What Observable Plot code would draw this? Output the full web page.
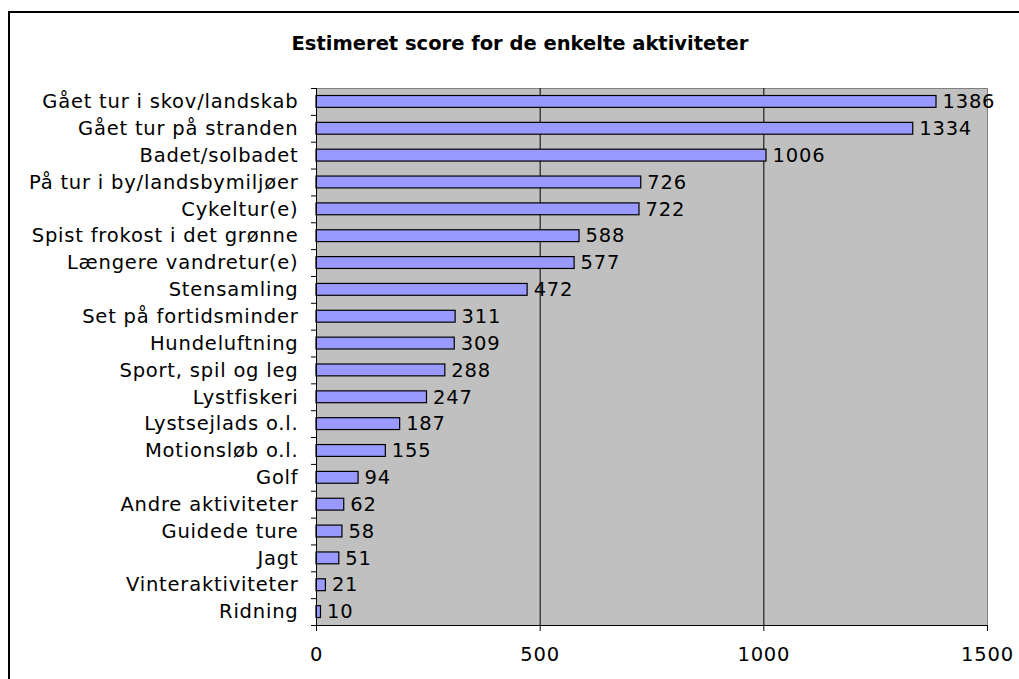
<!DOCTYPE html>
<html>
<head>
<meta charset="utf-8">
<script src="https://cdn.jsdelivr.net/npm/d3@7"></script>
<script src="https://cdn.jsdelivr.net/npm/@observablehq/plot@0.6"></script>
<style>
  html, body { margin: 0; padding: 0; background: #fff; }
  #wrap { position: relative; width: 1019px; height: 679px; overflow: hidden; }
  #border { position: absolute; left: 8px; top: 11px; width: 1020px; height: 680px; border: 2px solid #000; box-sizing: border-box; pointer-events: none; }
  #title { position: absolute; top: 34px; left: 520px; transform: translateX(-50%); white-space: nowrap; line-height: 1;
           font-family: "DejaVu Sans", Verdana, sans-serif; font-weight: bold; font-size: 19.5px; color: #000; }
  #chart { position: absolute; left: 0; top: 0; }
</style>
</head>
<body>
<div id="wrap">
  <div id="chart"></div>
  <div id="title">Estimeret score for de enkelte aktiviteter</div>
  <div id="border"></div>
</div>
<script>
const categories = [
  "Gået tur i skov/landskab",
  "Gået tur på stranden",
  "Badet/solbadet",
  "På tur i by/landsbymiljøer",
  "Cykeltur(e)",
  "Spist frokost i det grønne",
  "Længere vandretur(e)",
  "Stensamling",
  "Set på fortidsminder",
  "Hundeluftning",
  "Sport, spil og leg",
  "Lystfiskeri",
  "Lystsejlads o.l.",
  "Motionsløb o.l.",
  "Golf",
  "Andre aktiviteter",
  "Guidede ture",
  "Jagt",
  "Vinteraktiviteter",
  "Ridning"
];
const scores = [1386, 1334, 1006, 726, 722, 588, 577, 472, 311, 309, 288, 247, 187, 155, 94, 62, 58, 51, 21, 10];
const xTicks = [0, 500, 1000, 1500];

const data = categories.map((c, i) => ({category: c, value: scores[i], idx: i}));

const chart = Plot.plot({
  width: 1019,
  height: 679,
  marginLeft: 316,
  marginRight: 32,
  marginTop: 88,
  marginBottom: 54,
  style: {fontFamily: "'DejaVu Sans', Verdana, sans-serif", fontSize: "19.5px", letterSpacing: "0.8px", color: "#000", background: "transparent"},
  x: {domain: [0, 1500]},
  y: {domain: [0, categories.length], reverse: true},
  marks: [
    Plot.frame({fill: "#c0c0c0", stroke: "#808080"}),
    Plot.ruleX([500, 1000], {stroke: "#000", strokeWidth: 1}),
    Plot.rectX(data, {x1: 0, x2: "value", y1: d => d.idx, y2: d => d.idx + 1, insetTop: 7.5, insetBottom: 7.5, fill: "#9999ff", stroke: "#000", strokeWidth: 1.2}),
    Plot.text(data, {x: "value", y: d => d.idx + 0.5, text: d => String(d.value), textAnchor: "start", dx: 6, fill: "#000"}),
    Plot.ruleX([0], {stroke: "#000"}),
    Plot.ruleY([categories.length], {stroke: "#000"}),
    Plot.axisX({ticks: xTicks, tickSize: 6, tickPadding: 16, label: null, tickFormat: d => String(d)}),
    Plot.axisY({ticks: d3.range(categories.length + 1), tickSize: 5, tickFormat: () => "", label: null}),
    Plot.axisY({ticks: d3.range(categories.length).map(i => i + 0.5), tickSize: 0, tickPadding: 18, tickFormat: v => categories[Math.floor(v)], label: null})
  ]
});
document.getElementById("chart").appendChild(chart);
</script>
</body>
</html>
